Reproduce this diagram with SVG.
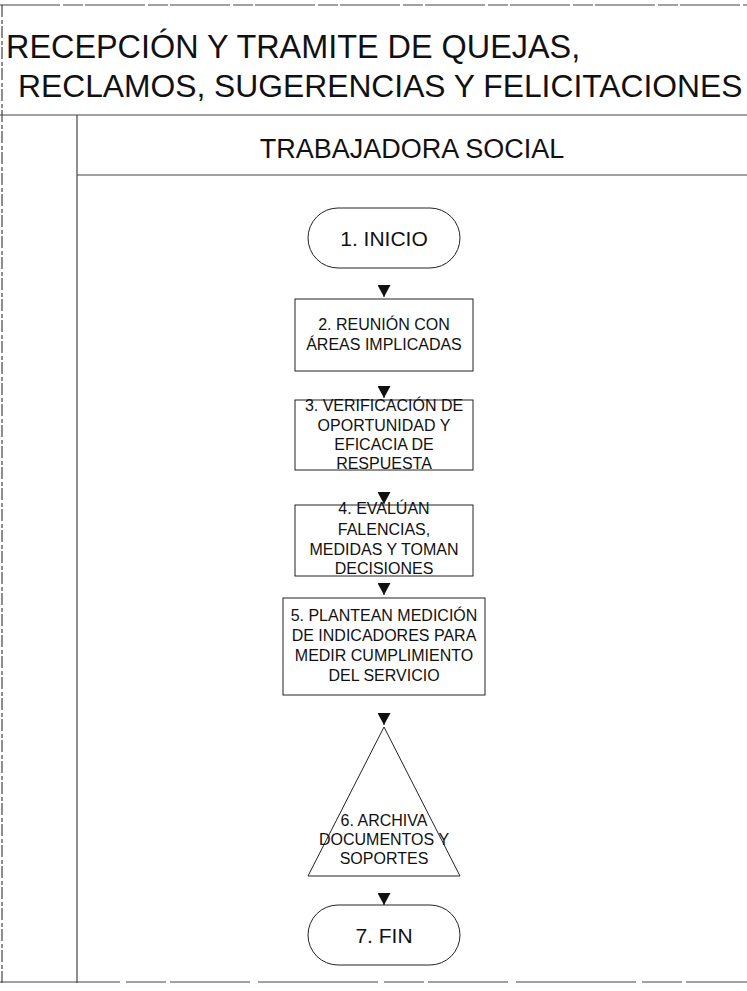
<svg xmlns="http://www.w3.org/2000/svg" width="747" height="991" viewBox="0 0 747 991">
<style>
text{font-family:"Liberation Sans",Arial,sans-serif;fill:#111;text-anchor:middle}
.title{text-anchor:start}
.lane{font-size:27px}
.n{font-size:16px}
.big{font-size:21px}
.frame{stroke:#444;stroke-width:1.2;fill:none}
.shape{stroke:#222;stroke-width:1;fill:#fff}
.conn{stroke:#111;stroke-width:1;fill:none}
</style>
<defs>
<marker id="ah" viewBox="0 0 12 13" refX="12" refY="6.5" markerWidth="12" markerHeight="13" markerUnits="userSpaceOnUse" orient="auto">
<path d="M0,0 L12,6.5 L0,13 Z" fill="#111"/>
</marker>
</defs>
<rect width="747" height="991" fill="#fff"/>
<g id="frame">
<line class="frame" x1="0" y1="5" x2="747" y2="5" stroke-dasharray="60 3 20 2"/>
<line class="frame" x1="2" y1="5" x2="2" y2="983" stroke-dasharray="12 3 4 2"/>
<line class="frame" x1="0" y1="115" x2="747" y2="115" stroke-width="1.6"/>
<line class="frame" x1="77" y1="115" x2="77" y2="983"/>
<line class="frame" x1="77" y1="175" x2="747" y2="175"/>
<line class="frame" x1="0" y1="982" x2="747" y2="982" stroke-width="1.6" stroke-dasharray="120 6 40 4 80 8"/>
</g>
<g id="title">
<text class="title" x="6" y="58" font-size="32.4">RECEPCIÓN Y TRAMITE DE QUEJAS,</text>
<text class="title" x="18" y="97" font-size="31.8">RECLAMOS, SUGERENCIAS Y FELICITACIONES</text>
</g>
<g id="lane">
<text class="lane" x="412" y="158">TRABAJADORA SOCIAL</text>
</g>
<g id="n1">
<rect class="shape" x="308" y="208" width="152" height="60" rx="30" ry="30"/>
<text class="big" x="384" y="246">1. INICIO</text>
</g>
<g id="n2">
<rect class="shape" x="295" y="299" width="178" height="72"/>
<text class="n" x="384" y="330">2. REUNIÓN CON</text>
<text class="n" x="384" y="350">ÁREAS IMPLICADAS</text>
</g>
<g id="n3">
<rect class="shape" x="295" y="400" width="178" height="70"/>
<text class="n" x="384" y="411">3. VERIFICACIÓN DE</text>
<text class="n" x="384" y="431">OPORTUNIDAD Y</text>
<text class="n" x="384" y="450">EFICACIA DE</text>
<text class="n" x="384" y="469">RESPUESTA</text>
</g>
<g id="n4">
<rect class="shape" x="295" y="505" width="178" height="71"/>
<text class="n" x="384" y="514">4. EVALÚAN</text>
<text class="n" x="384" y="535">FALENCIAS,</text>
<text class="n" x="384" y="555">MEDIDAS Y TOMAN</text>
<text class="n" x="384" y="574">DECISIONES</text>
</g>
<g id="n5">
<rect class="shape" x="283" y="598" width="202" height="97"/>
<text class="n" x="384" y="621">5. PLANTEAN MEDICIÓN</text>
<text class="n" x="384" y="641">DE INDICADORES PARA</text>
<text class="n" x="384" y="661">MEDIR CUMPLIMIENTO</text>
<text class="n" x="384" y="681">DEL SERVICIO</text>
</g>
<g id="n6">
<path class="shape" d="M384,727 L460,876 L308,876 Z"/>
<text class="n" x="384" y="826">6. ARCHIVA</text>
<text class="n" x="384" y="845">DOCUMENTOS Y</text>
<text class="n" x="384" y="864">SOPORTES</text>
</g>
<g id="n7">
<rect class="shape" x="308" y="905" width="152" height="60" rx="30" ry="30"/>
<text class="big" x="384" y="943" font-size="22">7. FIN</text>
</g>
<g id="connectors">
<line class="conn" x1="384" y1="285" x2="384" y2="297" marker-end="url(#ah)"/>
<line class="conn" x1="384" y1="386" x2="384" y2="398" marker-end="url(#ah)"/>
<line class="conn" x1="384" y1="492" x2="384" y2="504" marker-end="url(#ah)"/>
<line class="conn" x1="384" y1="583" x2="384" y2="595" marker-end="url(#ah)"/>
<line class="conn" x1="384" y1="713" x2="384" y2="725" marker-end="url(#ah)"/>
<line class="conn" x1="384" y1="893" x2="384" y2="905" marker-end="url(#ah)"/>
</g>
</svg>
